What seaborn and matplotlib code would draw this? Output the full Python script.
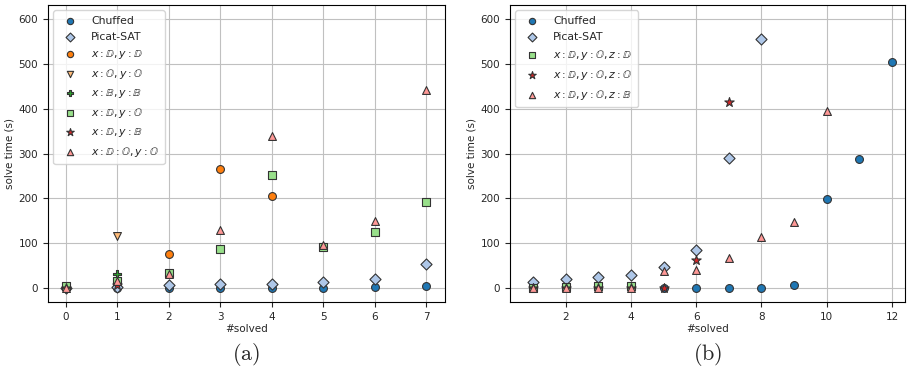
import pandas as pd
import matplotlib.pyplot as plt
import seaborn as sns

# ---- panel (a) data ----
a_chuffed_x = [0, 1, 2, 3, 4, 5, 6, 7]
a_chuffed_y = [0, 0, 0, 0, 0, 0, 3, 5]
a_picat_x = [0, 1, 2, 3, 4, 5, 6, 7]
a_picat_y = [0, 2, 7, 10, 10, 13, 20, 54]
a_dd_x = [0, 1, 2, 3, 4]
a_dd_y = [0, 15, 77, 265, 205]
a_oo_x = [0, 1]
a_oo_y = [0, 116]
a_bb_x = [0, 1]
a_bb_y = [0, 32]
a_do_x = [0, 1, 2, 3, 4, 5, 6, 7]
a_do_y = [5, 15, 34, 87, 251, 91, 124, 191]
a_db_x = [0, 1]
a_db_y = [0, 7]
a_doo_x = [0, 1, 2, 3, 4, 5, 6, 7]
a_doo_y = [0, 16, 31, 129, 340, 97, 150, 441]

# ---- panel (b) data ----
b_chuffed_x = [5, 6, 7, 8, 9, 10, 11, 12]
b_chuffed_y = [0, 0, 0, 0, 7, 198, 287, 505]
b_picat_x = [1, 2, 3, 4, 5, 6, 7, 8]
b_picat_y = [13, 21, 25, 29, 48, 85, 290, 556]
b_dod_x = [1, 2, 3, 4]
b_dod_y = [0, 2, 4, 5]
b_doo_x = [1, 2, 3, 4, 5, 6, 7]
b_doo_y = [0, 0, 0, 0, 0, 62, 415]
b_dob_x = [1, 2, 3, 4, 5, 6, 7, 8, 9, 10]
b_dob_y = [0, 0, 0, 0, 37, 41, 66, 114, 148, 395]

series_a = [
    ("Chuffed", a_chuffed_x, a_chuffed_y, "o", "#1f77b4"),
    ("Picat-SAT", a_picat_x, a_picat_y, "D", "#aec7e8"),
    (r"$x:\mathbb{D}, y:\mathbb{D}$", a_dd_x, a_dd_y, "o", "#ff7f0e"),
    (r"$x:\mathbb{O}, y:\mathbb{O}$", a_oo_x, a_oo_y, "v", "#ffbb78"),
    (r"$x:\mathbb{B}, y:\mathbb{B}$", a_bb_x, a_bb_y, "P", "#2ca02c"),
    (r"$x:\mathbb{D}, y:\mathbb{O}$", a_do_x, a_do_y, "s", "#98df8a"),
    (r"$x:\mathbb{D}, y:\mathbb{B}$", a_db_x, a_db_y, "*", "#d62728"),
    (r"$x:\mathbb{D}:\mathbb{O}, y:\mathbb{O}$", a_doo_x, a_doo_y, "^", "#ff9896"),
]
series_b = [
    ("Chuffed", b_chuffed_x, b_chuffed_y, "o", "#1f77b4"),
    ("Picat-SAT", b_picat_x, b_picat_y, "D", "#aec7e8"),
    (r"$x:\mathbb{D}, y:\mathbb{O}, z:\mathbb{D}$", b_dod_x, b_dod_y, "s", "#98df8a"),
    (r"$x:\mathbb{D}, y:\mathbb{O}, z:\mathbb{O}$", b_doo_x, b_doo_y, "*", "#d62728"),
    (r"$x:\mathbb{D}, y:\mathbb{O}, z:\mathbb{B}$", b_dob_x, b_dob_y, "^", "#ff9896"),
]

sns.set_style("ticks")
plt.rcParams["font.size"] = 7.5

fig = plt.figure(figsize=(9.09, 3.72), dpi=100)
ax_a = fig.add_axes([48 / 909, 70 / 372, 397 / 909, 297 / 372])
ax_b = fig.add_axes([510 / 909, 70 / 372, 395 / 909, 297 / 372])


def draw(ax, series):
    for label, xs, ys, m, c in series:
        df = pd.DataFrame({"solved": xs, "time": ys})
        size = 50 if m == "*" else (38 if m == "P" else 32)
        sns.scatterplot(x="solved", y="time", data=df, ax=ax, marker=m, color=c,
                        s=size, edgecolor="#333333", linewidth=0.8, label=label, zorder=3)
    ax.grid(True, color="#c0c0c0", linewidth=0.8)
    ax.set_axisbelow(True)
    ax.set_xlabel("#solved", fontsize=7.5, labelpad=2)
    ax.set_ylabel("solve time (s)", fontsize=7.5, labelpad=3)
    ax.set_ylim(-31, 631)
    ax.set_yticks([0, 100, 200, 300, 400, 500, 600])
    ax.tick_params(labelsize=7.5)
    for sp in ax.spines.values():
        sp.set_visible(True)
        sp.set_color("black")
    ax.legend(loc="upper left", fontsize=7.8, handletextpad=1.0, borderpad=0.5,
              labelspacing=0.55, markerscale=0.8, framealpha=0.8)


draw(ax_a, series_a)
ax_a.set_xlim(-0.35, 7.37)
ax_a.set_xticks(range(0, 8))

draw(ax_b, series_b)
ax_b.set_xlim(0.29, 12.4)
ax_b.set_xticks([2, 4, 6, 8, 10, 12])

plt.rcParams["mathtext.fontset"] = "cm"
fig.text((48 + 445) / 2 / 909, 1 - 355 / 372, r"$\mathrm{(a)}$", ha="center", va="center", fontsize=16)
fig.text((510 + 905) / 2 / 909, 1 - 355 / 372, r"$\mathrm{(b)}$", ha="center", va="center", fontsize=16)

fig.savefig("out.png", dpi=100)
